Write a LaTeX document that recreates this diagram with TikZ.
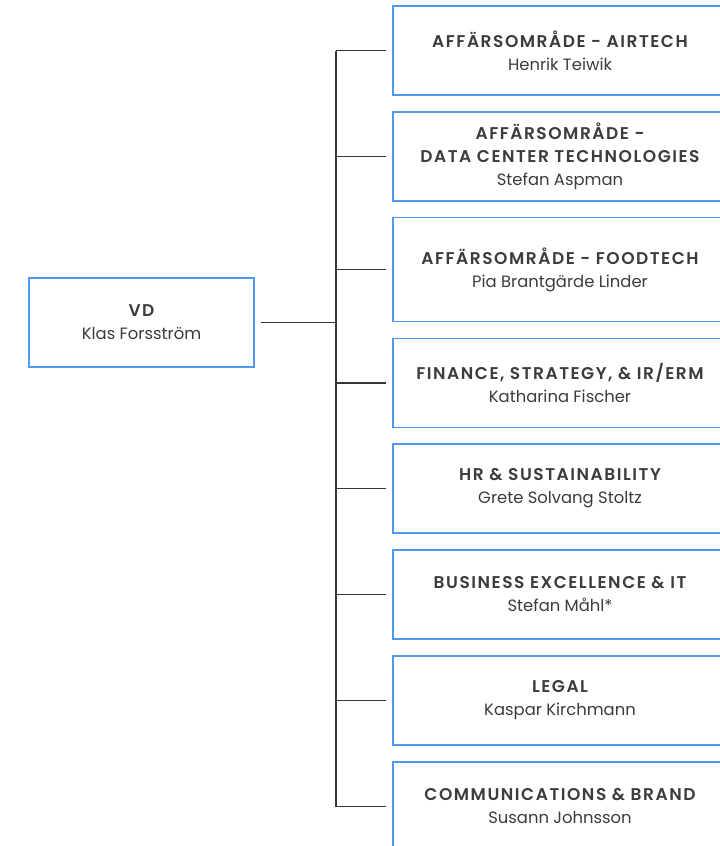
\documentclass[tikz,border=0pt]{standalone}
\usepackage{fontspec}
\setmainfont{Poppins}
\newfontfamily\titlefont{Poppins}[LetterSpace=9, BoldFont={Poppins SemiBold}]
\definecolor{boxblue}{RGB}{80,152,238}
\definecolor{txt}{RGB}{60,60,60}
\definecolor{conn}{RGB}{55,55,55}
\begin{document}
\begin{tikzpicture}[x=1bp,y=-1bp,
  orgbox/.style={draw=boxblue,line width=1.4bp,fill=white,minimum width=334bp,minimum height=89bp,
    align=center,text=txt,inner sep=0pt,font=\fontsize{16.4bp}{23bp}\selectfont},
  link/.style={draw=conn,line width=1.2bp},
]
\useasboundingbox (0,0) rectangle (720,846);
\clip (0,0) rectangle (720,846);
\newcommand{\ttl}[1]{{\titlefont\bfseries\fontsize{17bp}{23bp}\selectfont #1}}
\node[orgbox,minimum width=225bp] (vd) at (141.5,322.5) {\ttl{VD}\\Klas Forsström};
\node[orgbox] (b1) at (560,50.5) {\ttl{AFFÄRSOMRÅDE - AIRTECH}\\Henrik Teiwik};
\node[orgbox] (b2) at (560,156.5) {\ttl{AFFÄRSOMRÅDE -}\\\ttl{DATA CENTER TECHNOLOGIES}\\Stefan Aspman};
\node[orgbox,minimum height=104bp] (b3) at (560,269.5) {\ttl{AFFÄRSOMRÅDE - FOODTECH}\\Pia Brantgärde Linder};
\node[orgbox] (b4) at (560,383) {\ttl{FINANCE, STRATEGY, \& IR/ERM}\\Katharina Fischer};
\node[orgbox] (b5) at (560,488.5) {\ttl{HR \& SUSTAINABILITY}\\Grete Solvang Stoltz};
\node[orgbox] (b6) at (560,594.5) {\ttl{BUSINESS EXCELLENCE \& IT}\\Stefan Måhl*};
\node[orgbox] (b7) at (560,700.5) {\ttl{LEGAL}\\Kaspar Kirchmann};
\node[orgbox] (b8) at (560,806.5) {\ttl{COMMUNICATIONS \& BRAND}\\Susann Johnsson};
\coordinate (trunk) at (336,322.5);
\draw[link,shorten <=6bp] (vd.east) -- (trunk);
\draw[link] (b1.west -| trunk) -- (b8.west -| trunk);
\foreach \b in {b1,b2,b3,b4,b5,b6,b7,b8}
  \draw[link,shorten >=6bp] (\b.west -| trunk) -- (\b.west);
\end{tikzpicture}
\end{document}
